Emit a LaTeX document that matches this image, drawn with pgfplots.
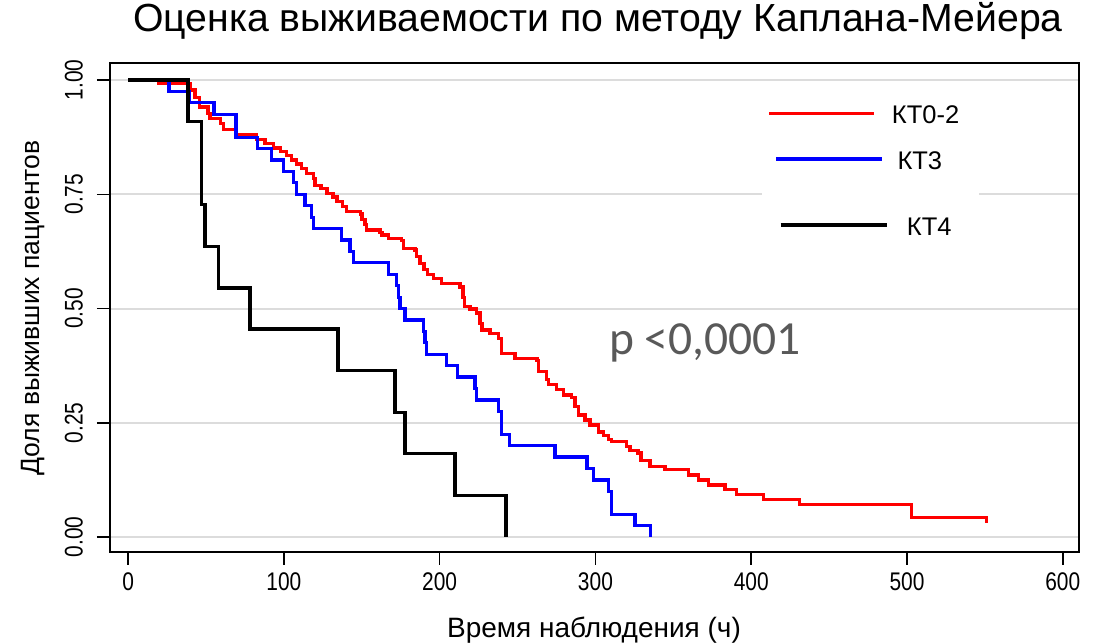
\documentclass[border=0pt]{standalone}
\usepackage{fontspec}
\setmainfont{Liberation Sans}
\newfontfamily\condfont[FakeStretch=0.82]{Liberation Sans}
\newfontfamily\calfont{Carlito}
\usepackage{pgfplots}
\pgfplotsset{compat=1.18}
\definecolor{pgray}{HTML}{595959}
\definecolor{gridgray}{HTML}{DCDCDC}
\begin{document}
\begin{tikzpicture}[x=1pt,y=1pt]
\path[use as bounding box] (0,0) rectangle (1099,643);
\begin{axis}[
  at={(110pt,91.3pt)}, anchor=south west,
  scale only axis, width=969pt, height=488.4pt,
  xmin=-11.6, xmax=610.4, ymin=-0.032, ymax=1.0365,
  axis line style={line width=1.8pt, black},
  xtick={0,100,200,300,400,500,600},
  xticklabels={0,100,200,300,400,500,600},
  ytick={0,0.25,0.5,0.75,1},
  yticklabels={0.00,0.25,0.50,0.75,1.00},
  tick align=outside, major tick length=13pt,
  tick style={line width=1.5pt, black},
  xtick pos=bottom, ytick pos=left,
  ymajorgrids, grid style={line width=2pt, color=gridgray},
  xticklabel style={font=\condfont\fontsize{25.5}{25}\selectfont, inner sep=0pt, yshift=-8pt},
  yticklabel style={font=\condfont\fontsize{25.5}{25}\selectfont, rotate=90, anchor=south, inner sep=0pt, yshift=14pt},
  title={Оценка выживаемости по методу Каплана-Мейера},
  title style={font=\fontsize{39.2}{41}\selectfont, at={(axis description cs:0.5036,1.0743)}, anchor=center},
  xlabel={Время наблюдения (ч)},
  xlabel style={font=\fontsize{28}{30}\selectfont, at={(axis description cs:0.4995,-0.160)}, anchor=center},
  ylabel={Доля выживших пациентов},
  ylabel style={font=\fontsize{26.5}{28}\selectfont, at={(axis description cs:-0.0795,0.499)}, anchor=center},
]
% KT0-2
\addplot[const plot, color=red, line width=3.2pt] coordinates {
(0,1) (19.3,0.992) (39.8,0.978) (43.0,0.961) (45.6,0.941) (51.3,0.927) (52.6,0.916)
(59.1,0.905) (61.2,0.891) (69.8,0.880) (82.6,0.869) (87.9,0.861) (93.3,0.851)
(97.6,0.843) (101.9,0.834) (105.1,0.825) (108.3,0.816) (111.5,0.807) (114.7,0.796)
(118.9,0.785) (120.0,0.770) (123.9,0.763) (127.7,0.752) (131.6,0.744) (134.1,0.734)
(137.4,0.723) (140.4,0.712) (149.0,0.707) (150.2,0.694) (152.1,0.683) (153.2,0.672)
(161.7,0.667) (163.0,0.661) (167.1,0.654) (175.7,0.648) (176.7,0.632) (184.2,0.628)
(185.3,0.613) (187.4,0.599) (190.0,0.586) (192.2,0.575) (196.0,0.565) (201.3,0.554)
(213.1,0.547) (215.0,0.525) (215.7,0.505) (219.5,0.499) (223.8,0.490) (225.9,0.468)
(227.2,0.453) (232.3,0.446) (237.7,0.435) (239.9,0.402) (248.4,0.391) (262.5,0.387)
(263.3,0.362) (268.7,0.344) (269.8,0.333) (275.2,0.322) (279.4,0.311) (284.8,0.306)
(286.9,0.285) (289.0,0.267) (293.3,0.256) (296.5,0.245) (301.8,0.230) (305.1,0.223)
(308.3,0.214) (310.5,0.209) (320.1,0.198) (322.2,0.190) (327.3,0.184) (329.3,0.168)
(335.0,0.155) (344.7,0.147) (359.6,0.136) (366.0,0.125) (372.5,0.114) (383.2,0.104)
(390.7,0.094) (407.8,0.083) (430.9,0.072) (503.0,0.043) (551.1,0.031)
};
% KT3
\addplot[const plot, color=blue, line width=3.2pt] coordinates {
(0,1) (26.3,0.975) (39.2,0.95) (55.2,0.925) (69.3,0.875) (83.0,0.85) (92.2,0.825)
(99.7,0.8) (106.1,0.775) (108.3,0.75) (113.6,0.725) (117.9,0.7) (118.9,0.675)
(137.2,0.65) (142.5,0.625) (144.6,0.6) (167.1,0.575) (172.5,0.55) (173.5,0.525)
(174.6,0.5) (177.8,0.475) (189.5,0.45) (190.6,0.425) (191.7,0.4) (204.6,0.375)
(211.4,0.35) (222.7,0.325) (223.8,0.3) (237.7,0.275) (239.9,0.225) (244.7,0.2)
(274.1,0.175) (294.6,0.15) (298.5,0.125) (308.3,0.1) (310.5,0.05) (325.4,0.025)
(335.5,0)
};
% KT4
\addplot[const plot, color=black, line width=3.2pt] coordinates {
(0,1) (38.5,0.909) (47.3,0.727) (49.4,0.636) (57.8,0.545) (78.3,0.455)
(134.8,0.364) (171.4,0.273) (177.8,0.182) (209.9,0.091) (242.6,0)
};
\end{axis}
% legend
\fill[white] (761.7,393) rectangle (979.3,553);
\draw[red, line width=3.5pt] (769.3,529.7) -- (874.3,529.7);
\node[anchor=west, inner sep=0pt, font=\fontsize{25.5}{25}\selectfont] at (891.7,528) {КТ0-2};
\draw[blue, line width=3.5pt] (776,484) -- (881.7,484);
\node[anchor=west, inner sep=0pt, font=\fontsize{25.5}{25}\selectfont] at (897.3,482.3) {КТ3};
\draw[black, line width=3.5pt] (780.7,418) -- (887.3,418);
\node[anchor=west, inner sep=0pt, font=\fontsize{25.5}{25}\selectfont] at (906.7,416.3) {КТ4};
% p-value
\node[anchor=base west, inner sep=0pt, text=pgray, font=\calfont\fontsize{47.5}{47}\selectfont] at (609,288) {p <0,0001};
\end{tikzpicture}
\end{document}
